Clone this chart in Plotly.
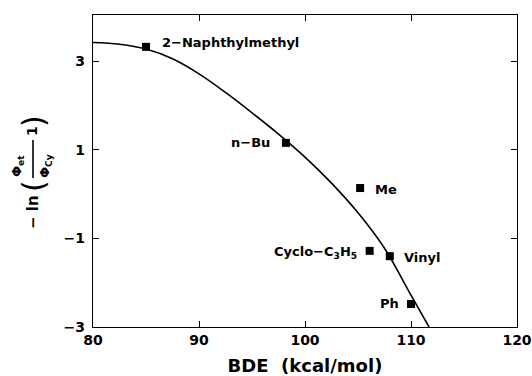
import plotly.graph_objects as go

# Data points (BDE, -ln(phi_et/phi_cy - 1))
names = ["2−Naphthylmethyl", "n−Bu", "Me", "Cyclo−C<sub>3</sub>H<sub>5</sub>", "Vinyl", "Ph"]
bde = [85.0, 98.2, 105.2, 106.1, 108.0, 110.0]
lnval = [3.33, 1.16, 0.14, -1.28, -1.40, -2.48]

# Curve
curve_x = [80, 82.5, 85, 87.5, 90, 92.5, 95, 97.5, 100, 102.5, 105, 107.5, 110, 111.7]
curve_y = [3.43, 3.39, 3.28, 3.06, 2.72, 2.30, 1.84, 1.36, 0.84, 0.25, -0.42, -1.22, -2.28, -3.0]

xticks = [80, 90, 100, 110, 120]
yticks = [-3, -1, 1, 3]

# label placement: (xanchor, xshift, yshift)
label_pos = [("left", 14, 4), ("right", -14, 0), ("left", 13, -1),
             ("right", -11, -2), ("left", 12, -1), ("right", -10, 0)]

FONT = "DejaVu Sans"

fig = go.Figure()
fig.add_trace(go.Scatter(x=curve_x, y=curve_y, mode="lines",
                         line=dict(color="black", width=1.6, shape="spline"),
                         hoverinfo="skip", showlegend=False))
fig.add_trace(go.Scatter(x=bde, y=lnval, mode="markers",
                         marker=dict(symbol="square", size=8, color="black"),
                         showlegend=False))

for n, xv, yv, (xa, xs, ys) in zip(names, bde, lnval, label_pos):
    fig.add_annotation(x=xv, y=yv, xref="x", yref="y", text="<b>%s</b>" % n,
                       showarrow=False, xanchor=xa, yanchor="middle",
                       xshift=xs, yshift=ys,
                       font=dict(family=FONT, size=13, color="black"))

L, R, T, B = 93, 15, 15, 49
W, H = 532, 376
pw, ph = W - L - R, H - T - B

def px(xp):
    return (xp - L) / pw

def py(yp):
    return (H - B - yp) / ph

# y-axis title built from pieces (rotated)
ytitle = [
    ("<b>− ln</b>", 33, 212, 15),
    ("(", 33, 186, 30),
    ("<b>Φ<sub>et</sub></b>", 18, 166, 13),
    ("<b>Φ<sub>Cy</sub></b>", 46, 166, 13),
    ("<b>1</b>", 32, 131, 14),
    (")", 33, 121, 30),
]
for t, xx, yy, fs in ytitle:
    fig.add_annotation(x=px(xx), y=py(yy), xref="paper", yref="paper", text=t,
                       showarrow=False, textangle=-90, xanchor="center", yanchor="middle",
                       font=dict(family=FONT, size=fs, color="black"))
fig.add_shape(type="line", xref="paper", yref="paper",
              x0=px(33), x1=px(33), y0=py(178), y1=py(140),
              line=dict(color="black", width=1.6))

axis_common = dict(showline=True, linecolor="black", linewidth=1.2, mirror="ticks",
                   ticks="inside", ticklen=6, tickwidth=1, tickcolor="black",
                   showgrid=False, zeroline=False, automargin=False,
                   tickfont=dict(family=FONT, size=14, color="black"))

fig.update_xaxes(range=[80, 120], tickvals=xticks, ticktext=["<b>%d</b>" % v for v in xticks],
                 title=dict(text="<b>BDE  (kcal/mol)</b>", font=dict(family=FONT, size=18, color="black"),
                            standoff=12),
                 **axis_common)
fig.update_yaxes(range=[-3, 4.05], tickvals=yticks,
                 ticktext=["<b>%s</b>" % str(v).replace("-", "−") for v in yticks],
                 ticklabelstandoff=4,
                 **axis_common)

fig.update_layout(width=W, height=H, margin=dict(l=L, r=R, t=T, b=B, autoexpand=False),
                  paper_bgcolor="white", plot_bgcolor="white",
                  font=dict(family=FONT, color="black"))

fig.write_html("out.html")
